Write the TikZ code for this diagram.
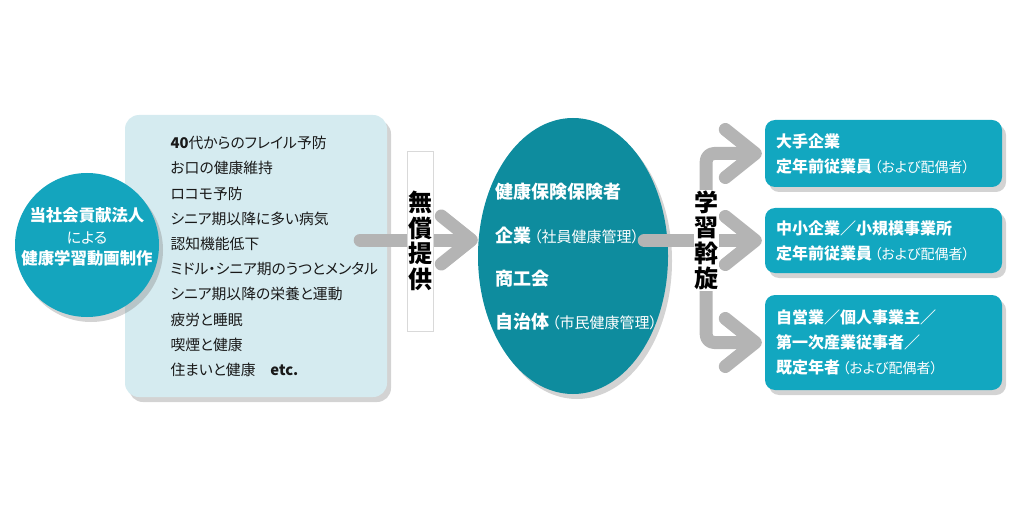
\documentclass[tikz,border=0pt]{standalone}
\usepackage{fontspec}
\setmainfont{Noto Sans CJK JP}[RawFeature=+palt]
\usetikzlibrary{arrows.meta,shapes.geometric,shadows,positioning}

\definecolor{circteal}{HTML}{14A5BE}
\definecolor{ovalteal}{HTML}{0E8C9E}
\definecolor{boxteal}{HTML}{12A7C0}
\definecolor{listblue}{HTML}{D5EBF0}
\definecolor{arrowgray}{HTML}{B4B4B4}

\newcommand{\fsize}[2]{\fontsize{#1}{#2}\selectfont}
\newcommand{\aside}[2][14]{{\mdseries\fsize{#1}{#1}\kern2.5pt#2}}

\tikzset{
    flow/.style={draw=arrowgray, line width=13pt, line cap=round, line join=round,
        rounded corners=8pt, -{Straight Barb[round, length=30pt, width=48pt]}},
    lift/.style={drop shadow={shadow xshift=4pt, shadow yshift=-5pt, opacity=0.35}},
    dest/.style={lift, fill=boxteal, rounded corners=10pt, minimum width=237pt,
        text width=215pt, inner xsep=11pt, align=left, text=white,
        font=\bfseries\fsize{16}{25}},
    vlabel/.style={fill=white, inner sep=0.5pt, align=center,
        font=\bfseries\fsize{24}{25.5}}
}

\begin{document}
\begin{tikzpicture}[x=1pt, y=1pt]
    \useasboundingbox (0,0) rectangle (1024,512);

    % topics
    \node[lift, fill=listblue, rounded corners=14pt, minimum width=262pt, minimum height=282pt] (videos) at (256,256) {};
    \node[anchor=west, align=left, text=black!90, font=\fsize{14.8}{25.2}] (topics) at (167,255.5)
        {{\bfseries 40}代からのフレイル予防\\お口の健康維持\\ロコモ予防\\シニア期以降に多い病気\\認知機能低下\\
         ミドル・シニア期のうつとメンタル\\シニア期以降の栄養と運動\\疲労と睡眠\\喫煙と健康\\住まいと健康\quad{\bfseries etc.}};

    % producer
    \node[lift, circle, fill=circteal, minimum size=144pt, inner sep=0pt] (maker) at (87,267) {};
    \node[align=center, text=white, font=\bfseries\fsize{16.4}{21.5}] (makername) at (87,275)
        {当社会貢献法人\\{\mdseries\fsize{15}{15}による}\\健康学習動画制作};

    % receivers
    \node[lift, ellipse, fill=ovalteal, minimum width=190pt, minimum height=276pt, inner sep=0pt] (orgs) at (573,256) {};
    \node[anchor=west, align=left, text=white, font=\bfseries\fsize{18}{43.3}] (orgnames) at (492,255)
        {健康保険保険者\\企業\aside[15]{（社員健康管理）}\\商工会\\自治体\aside[15]{（市民健康管理）}};

    % targets
    \node[dest, minimum height=67pt] (bigco) at (883.5,358.5) {大手企業\\定年前従業員\aside{（および配偶者）}};
    \node[dest, minimum height=65pt] (smallco) at (883.5,271.5) {中小企業／小規模事業所\\定年前従業員\aside{（および配偶者）}};
    \node[dest, minimum height=95pt] (selfemp) at (883.5,169.5) {自営業／個人事業主／\\第一次産業従事者／\\既定年者\aside{（および配偶者）}};

    % arrows
    \draw[flow] ([xshift=-27pt, yshift=16pt]videos.east) -- ([yshift=16pt]orgs.west);
    \coordinate (fork) at ([xshift=38pt]orgs.east |- smallco.west);
    \draw[flow] ([xshift=-24pt]orgs.east |- fork) -- ([xshift=-3pt]smallco.west);
    \draw[flow] (fork) |- ([xshift=-3pt]bigco.west);
    \draw[flow] (fork) |- ([xshift=-3pt]selfemp.west);

    % labels
    \node[vlabel, draw=black!15, minimum width=26pt, minimum height=180pt] (free) at (420,271) {無\\償\\提\\供};
    \node[vlabel] (mediate) at (fork) {学\\習\\斡\\旋};
\end{tikzpicture}
\end{document}
